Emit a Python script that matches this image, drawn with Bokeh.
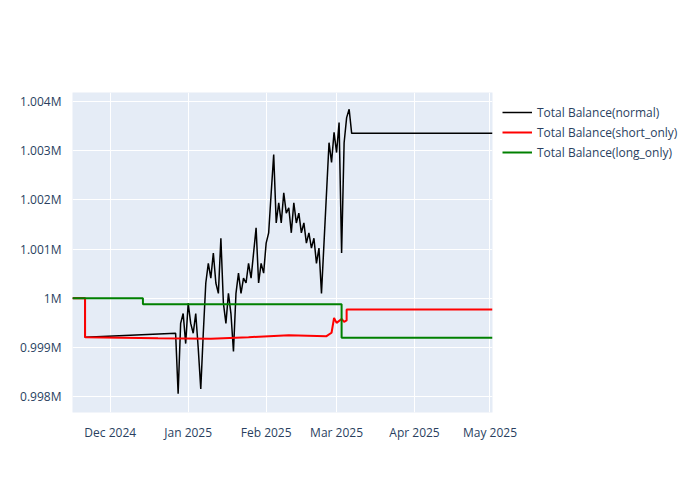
import numpy as np
import pandas as pd
from bokeh.plotting import figure
from bokeh.models import Legend, FixedTicker, DatetimeTickFormatter, Range1d
from bokeh.embed import file_html
from bokeh.resources import INLINE

# black: normal
normal_dates = ["2024-11-16", "2024-11-21", "2024-11-21"] + [
    d.strftime("%Y-%m-%d") for d in pd.date_range("2024-12-27", "2025-03-07")
] + ["2025-05-02"]
normal_vals = [1.0, 1.0, 0.99921,
    0.99929, 0.99806, 0.99949, 0.99969, 0.99908, 0.99990, 0.99949, 0.99929,
    0.99969, 0.99898, 0.99816, 0.99929, 1.00031, 1.00071, 1.00041, 1.00092,
    1.00031, 1.00010, 1.00122, 0.99990, 0.99949, 1.00010, 0.99969, 0.99892,
    1.00010, 1.00051, 1.00010, 1.00041, 1.00031, 1.00071, 1.00041, 1.00092,
    1.00143, 1.00031, 1.00071, 1.00051, 1.00112, 1.00133, 1.00214, 1.00292,
    1.00153, 1.00194, 1.00153, 1.00214, 1.00173, 1.00184, 1.00133, 1.00194,
    1.00153, 1.00173, 1.00133, 1.00153, 1.00112, 1.00133, 1.00102, 1.00122,
    1.00071, 1.00102, 1.00010, 1.00112, 1.00214, 1.00316, 1.00276, 1.00337,
    1.00296, 1.00357, 1.00092, 1.00316, 1.00367, 1.00384, 1.00335,
    1.00335]

short_dates = ["2024-11-16", "2024-11-21", "2024-11-21", "2024-12-20", "2025-01-10",
               "2025-01-25", "2025-02-10", "2025-02-25", "2025-02-27", "2025-02-28",
               "2025-03-01", "2025-03-03", "2025-03-04", "2025-03-05", "2025-03-05", "2025-05-02"]
short_vals = [1.0, 1.0, 0.99921, 0.99919, 0.99918, 0.99921, 0.99925, 0.99923, 0.99930,
              0.99960, 0.99950, 0.99958, 0.99952, 0.99955, 0.99977, 0.99977]

long_dates = ["2024-11-16", "2024-12-14", "2024-12-14", "2025-03-03", "2025-03-03", "2025-05-02"]
long_vals = [1.0, 1.0, 0.99988, 0.99988, 0.99920, 0.99920]

y_ticks = [0.998, 0.999, 1.0, 1.001, 1.002, 1.003, 1.004]
y_labels = ["0.998M", "0.999M", "1M", "1.001M", "1.002M", "1.003M", "1.004M"]
x_ticks = ["2024-12-01", "2025-01-01", "2025-02-01", "2025-03-01", "2025-04-01", "2025-05-01"]


def ms(d):
    return pd.Timestamp(d).value / 1e6


p = figure(frame_width=420, frame_height=320, x_axis_type="datetime", output_backend="svg",
           toolbar_location=None, min_border_left=72, min_border_top=92,
           min_border_bottom=10, min_border_right=10,
           x_range=Range1d(ms("2024-11-16"), ms("2025-05-02")),
           y_range=Range1d(0.99768, 1.00418))
p.background_fill_color = "#E5ECF6"
p.outline_line_color = None
p.grid.grid_line_color = "white"
p.grid.grid_line_width = 1

r1 = p.line([ms(d) for d in normal_dates], normal_vals, color="black", line_width=1.5)
r2 = p.line([ms(d) for d in short_dates], short_vals, color="red", line_width=2)
r3 = p.line([ms(d) for d in long_dates], long_vals, color="green", line_width=2)

p.yaxis.ticker = FixedTicker(ticks=y_ticks)
p.yaxis.major_label_overrides = dict(zip(y_ticks, y_labels))
p.xaxis.ticker = FixedTicker(ticks=[ms(d) for d in x_ticks])
p.xaxis.formatter = DatetimeTickFormatter(months="%b %Y", days="%b %Y")
for ax in (p.xaxis, p.yaxis):
    ax.axis_line_color = None
    ax.major_tick_line_color = None
    ax.minor_tick_line_color = None
    ax.major_label_text_color = "#2a3f5f"
    ax.major_label_text_font_size = "12px"
    ax.major_label_text_font = "Open Sans"

legend = Legend(items=[("Total Balance(normal)", [r1]),
                       ("Total Balance(short_only)", [r2]),
                       ("Total Balance(long_only)", [r3])],
                location="top_left", background_fill_alpha=0, border_line_color=None,
                label_text_font_size="12px", label_text_color="#2a3f5f",
                label_text_font="Open Sans", glyph_width=30, spacing=0,
                label_height=14, padding=0, margin=10)
p.add_layout(legend, "right")

open("out.html", "w").write(file_html(p, INLINE))
